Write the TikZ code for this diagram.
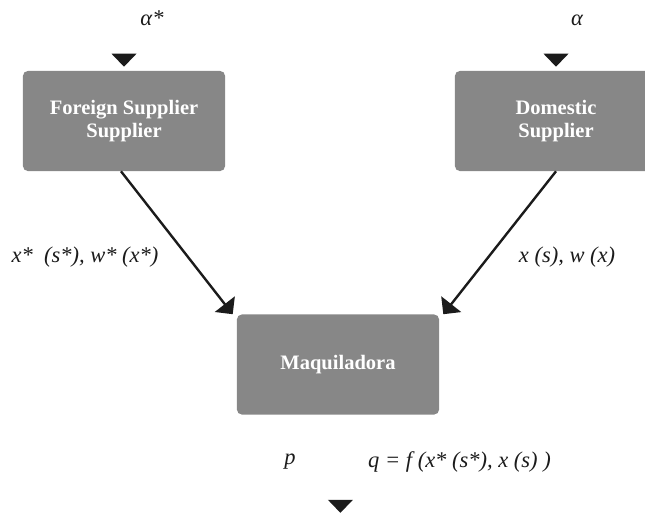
\documentclass[tikz,border=0pt]{standalone}
\usepackage{fontspec}
\setmainfont{Liberation Serif}
\usepackage{tikz}
\usetikzlibrary{calc,positioning,arrows.meta}
\definecolor{mqbox} {HTML}{878787}
\definecolor{mqink} {HTML}{1B1B1B}
\newcommand{\mqtri}[1]{%
  \fill[mqink] ($(#1)+(-12.5,-13)$) -- ($(#1)+(12.5,-13)$) -- (#1) -- cycle;}
\tikzset{
  mqnode/.style={fill=mqbox, rounded corners=0.12cm, minimum width=5.05cm,
    minimum height=2.5cm, inner sep=0pt, align=center, text=white,
    font=\fontsize{14.6}{16.4}\selectfont\bfseries},
  mqlab/.style={inner sep=0pt, text=mqink,
    font=\fontsize{16}{19}\selectfont\itshape},
  mqflow/.style={draw=mqink, line width=1.7pt,
    -{Triangle[width=0.625cm,length=0.32cm]}}}

\begin{document}
\begin{tikzpicture}[x=0.025cm, y=-0.025cm]
  \useasboundingbox (0,0) rectangle (645,516);
  \clip (0,0) rectangle (645,516);
  \node[mqnode] (fs) at (124,121)   {Foreign Supplier\\Supplier};
  \node[mqnode] (ds) at (556,121)   {Domestic\\Supplier};
  \node[mqnode] (mq) at (338,364.5) {Maquiladora};
  % parameters in
  \node[mqlab] (afs) at (152,18) {α*};
  \node[mqlab] (ads) at (577,20) {α};
  \coordinate (fsin)  at ([yshift=0.1cm]fs.north);
  \coordinate (dsin)  at ([yshift=0.1cm]ds.north);
  \coordinate (mqout) at ([xshift=0.06cm, yshift=-2.45cm]mq.south);
  \mqtri{fsin}
  \mqtri{dsin}
  \mqtri{mqout}
  % supply flows
  \draw[mqflow] ([xshift=-0.075cm]fs.south) -- ([xshift=-0.1cm]mq.north west);
  \draw[mqflow] (ds.south) -- ([xshift=0.1cm]mq.north east);
  \node[mqlab] (xfs) at (85,257)  {x*\ \ (s*), w* (x*)};
  \node[mqlab] (xds) at (567,257) {x (s), w (x)};
  % output
  \node[mqlab] (pr) at (290,462)   {p};
  \node[mqlab] (qf) at (459.5,462) {q = f (x* (s*), x (s) )};
\end{tikzpicture}
\end{document}
